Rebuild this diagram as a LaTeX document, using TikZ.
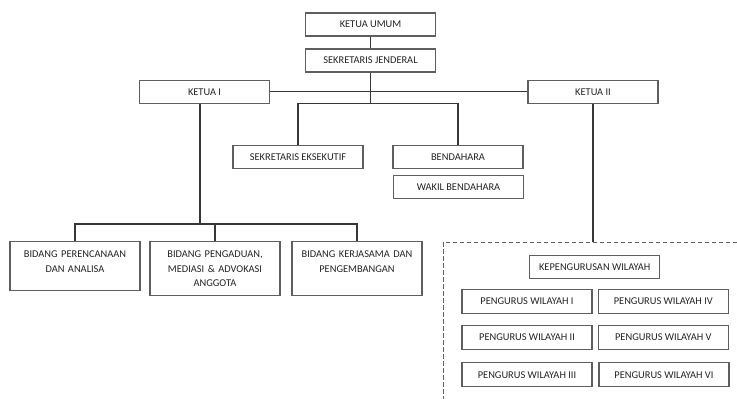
\documentclass[tikz,border=0pt]{standalone}
\usepackage{fontspec}
\setmainfont{Carlito}
\usepackage{tikz}
\usepackage{xcolor}
\definecolor{boxgray}{RGB}{95,95,95}
\definecolor{linegray}{RGB}{55,55,55}
\definecolor{txtgray}{RGB}{35,35,35}
\usetikzlibrary{positioning, calc}
\tikzstyle{Box} = [
draw=boxgray,
line width=1.1pt,
minimum width=130pt,
minimum height=23pt,
inner sep=0pt,
text=txtgray,
font=\fontsize{10.4}{14.5}\selectfont]
\tikzstyle{Bidang} = [
Box,
text width=124pt,
align=center,
text height=12.35pt,
inner ysep=4pt,
anchor=north]
\tikzstyle{Line} = [
draw=linegray,
line width=1.4pt]
\tikzstyle{Frame} = [
draw=boxgray,
line width=1pt,
dash pattern=on 4.5pt off 2.5pt]

\begin{document}
\begin{tikzpicture}[x=1pt, y=-1pt]
    \useasboundingbox (0,0) rectangle (737,399);
    \node [Box] (ku) at (370.5,24.5) {KETUA UMUM};
    \node [Box] (sj) at (370.5,60.5) {SEKRETARIS JENDERAL};
    \node [Box] (k1) at (204.5,91.7) {KETUA I};
    \node [Box] (k2) at (593,91.7) {KETUA II};
    \node [Box] (se) at (298,157) {SEKRETARIS EKSEKUTIF};
    \node [Box] (bd) at (458,157) {BENDAHARA};
    \node [Box] (wb) at (458.5,187) {WAKIL BENDAHARA};

    \node [Bidang, text depth=28.65pt] (b1) at (75,241) {BIDANG PERENCANAAN\\DAN ANALISA};
    \node [Bidang, text depth=33.15pt] (b2) at (215,241) {BIDANG PENGADUAN,\\MEDIASI \& ADVOKASI\\ANGGOTA};
    \node [Bidang, text depth=33.15pt] (b3) at (357,241) {BIDANG KERJASAMA DAN\\PENGEMBANGAN};

    \coordinate (wtl) at (443,242);
    \coordinate (wtr) at (737,242);
    \coordinate (wbl) at (443,399);
    \node [Box] (kw) at (594.7,267) {KEPENGURUSAN WILAYAH};
    \node [Box, minimum height=24pt] (pw1) at (527,301.3) {PENGURUS WILAYAH I};
    \node [Box, minimum height=24pt] (pw4) at (663.3,301.3) {PENGURUS WILAYAH IV};
    \node [Box, minimum height=24pt] (pw2) at (527,337.5) {PENGURUS WILAYAH II};
    \node [Box, minimum height=24pt] (pw5) at (663.3,337.5) {PENGURUS WILAYAH V};
    \node [Box, minimum height=24pt] (pw3) at (527,374.7) {PENGURUS WILAYAH III};
    \node [Box, minimum height=24pt] (pw6) at (664,374.7) {PENGURUS WILAYAH VI};

    % connectors
    \coordinate (hub) at (sj.south |- k1.south);
    \coordinate (bbus) at ([xshift=-4.5pt]k1.south |- 0,224);
    \draw[Line] (ku.south) -- (sj.north);
    \draw[Line] (sj.south) -- (hub);
    \draw[Line] (k1.east) -- (k2.west);
    \draw[Line] (se.north) |- (hub) -| (bd.north);
    \draw[Line] ([xshift=-4.5pt]k1.south) -- (bbus);
    \draw[Line] (b1.north) |- (bbus) -| (b3.north);
    \draw[Line] (bbus -| b2.north) -- (b2.north);
    \draw[Line] (k2.south) -- (k2.south |- wtl);
    \draw[Frame] (wtr) -- (wtl) -- (wbl);
\end{tikzpicture}
\end{document}
